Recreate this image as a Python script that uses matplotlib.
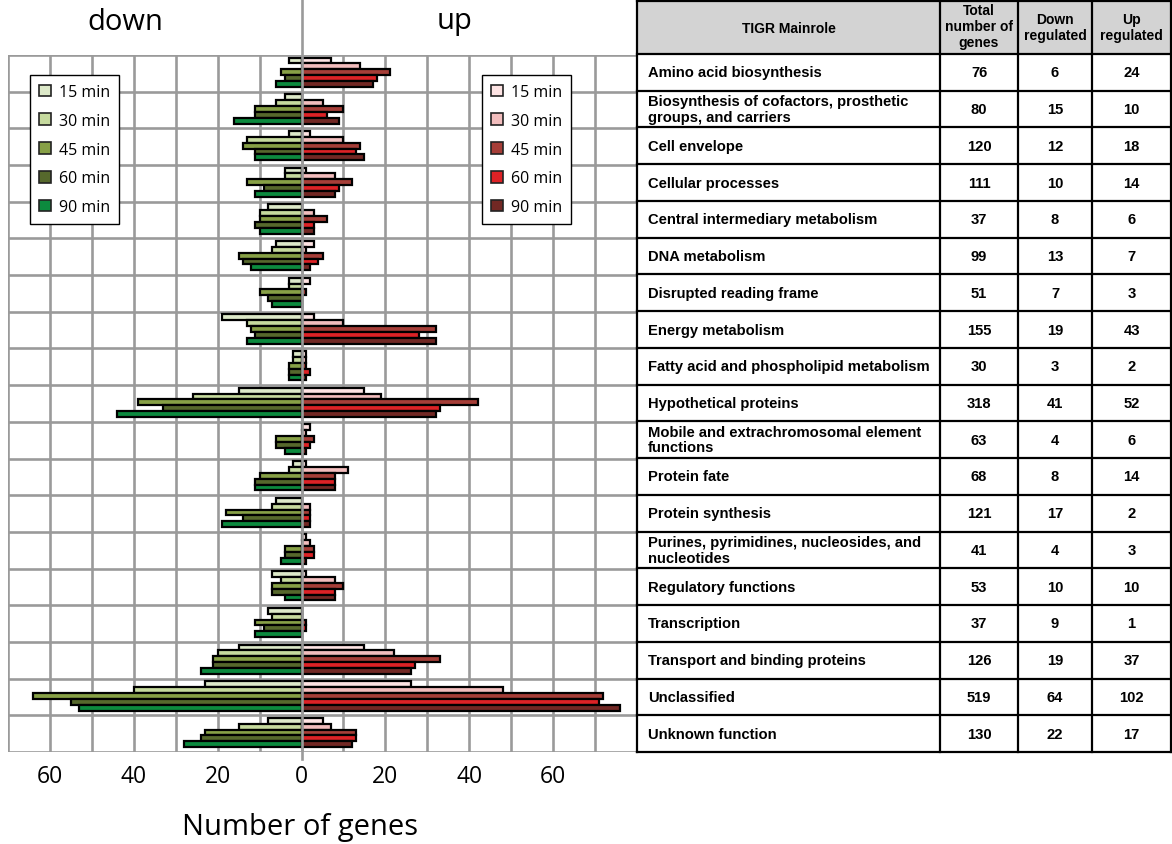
import numpy as np
import matplotlib
matplotlib.use("Agg")
from matplotlib import pyplot as plt
from matplotlib.patches import Patch, Rectangle

# カテゴリ (TIGR main role)
roles = [
    "Amino acid biosynthesis",
    "Biosynthesis of cofactors, prosthetic\ngroups, and carriers",
    "Cell envelope",
    "Cellular processes",
    "Central intermediary metabolism",
    "DNA metabolism",
    "Disrupted reading frame",
    "Energy metabolism",
    "Fatty acid and phospholipid metabolism",
    "Hypothetical proteins",
    "Mobile and extrachromosomal element\nfunctions",
    "Protein fate",
    "Protein synthesis",
    "Purines, pyrimidines, nucleosides, and\nnucleotides",
    "Regulatory functions",
    "Transcription",
    "Transport and binding proteins",
    "Unclassified",
    "Unknown function",
]
total_genes = [76, 80, 120, 111, 37, 99, 51, 155, 30, 318, 63, 68, 121, 41, 53, 37, 126, 519, 130]
down_regulated = [6, 15, 12, 10, 8, 13, 7, 19, 3, 41, 4, 8, 17, 4, 10, 9, 19, 64, 22]
up_regulated = [24, 10, 18, 14, 6, 7, 3, 43, 2, 52, 6, 14, 2, 3, 10, 1, 37, 102, 17]

time_labels = ["15 min", "30 min", "45 min", "60 min", "90 min"]

# down (左側)
down_15 = [3, 4, 3, 4, 8, 6, 3, 19, 2, 15, 0, 2, 6, 0, 7, 8, 15, 23, 8]
down_30 = [0, 6, 13, 4, 10, 7, 3, 13, 2, 26, 0, 3, 7, 0, 5, 7, 20, 40, 15]
down_45 = [5, 11, 14, 13, 10, 15, 10, 12, 3, 39, 6, 10, 18, 4, 7, 11, 21, 64, 23]
down_60 = [4, 11, 11, 9, 11, 14, 8, 11, 3, 33, 6, 11, 14, 4, 7, 9, 21, 55, 24]
down_90 = [6, 16, 11, 11, 10, 12, 7, 13, 3, 44, 4, 11, 19, 5, 4, 11, 24, 53, 28]

# up (右側)
up_15 = [7, 0, 2, 1, 0, 3, 2, 3, 1, 15, 2, 1, 0, 1, 1, 0, 15, 26, 5]
up_30 = [14, 5, 10, 8, 3, 1, 0, 10, 1, 19, 1, 11, 2, 2, 8, 0, 22, 48, 7]
up_45 = [21, 10, 14, 12, 6, 5, 1, 32, 1, 42, 3, 8, 2, 3, 10, 1, 33, 72, 13]
up_60 = [18, 6, 13, 9, 3, 4, 0, 28, 2, 33, 2, 8, 2, 3, 8, 1, 27, 71, 13]
up_90 = [17, 9, 15, 8, 3, 2, 0, 32, 1, 32, 1, 8, 2, 1, 8, 0, 26, 76, 12]

down_series = [down_15, down_30, down_45, down_60, down_90]
up_series = [up_15, up_30, up_45, up_60, up_90]

down_colors = ["#dde9c9", "#c6da9e", "#87a046", "#56682c", "#0c8a3e"]
up_colors = ["#fde3e3", "#f2bdbd", "#a63e38", "#dd2226", "#722824"]

W, H = 1172, 845
fig = plt.figure(figsize=(W / 100, H / 100), dpi=100)

# ---- 棒グラフ ----
x0, x1, y0, y1 = 8, 637, 56, 753
ax = fig.add_axes([x0 / W, 1 - y1 / H, (x1 - x0) / W, (y1 - y0) / H])
n = len(roles)
ax.set_xlim(-70, 80)
ax.set_ylim(n, 0)

for xv in range(-70, 81, 10):
    ax.axvline(xv, color="#9a9a9a", lw=1.9, zorder=1)
for yv in range(n + 1):
    ax.axhline(yv, color="#9a9a9a", lw=1.9, zorder=1)

pos = np.arange(n)
bar_h = 0.16
for j in range(5):
    yy = pos + 0.15 + bar_h * j
    d = np.array(down_series[j])
    u = np.array(up_series[j])
    m = d > 0
    ax.barh(yy[m], -d[m], height=bar_h, color=down_colors[j],
            edgecolor="black", linewidth=1.6, zorder=3)
    m = u > 0
    ax.barh(yy[m], u[m], height=bar_h, color=up_colors[j],
            edgecolor="black", linewidth=1.6, zorder=3)

ax.axvline(0, ymin=-0.01, ymax=1.085, color="#9a9a9a", lw=1.9, zorder=4, clip_on=False)

ticks = [-60, -40, -20, 0, 20, 40, 60]
ax.set_xticks(ticks)
ax.set_xticklabels([str(abs(t)) for t in ticks], fontsize=16.5, family="Open Sans")
ax.tick_params(axis="x", length=0, pad=9)
ax.set_yticks([])
for s in ax.spines.values():
    s.set_visible(False)

def make_legend(colors, xa):
    handles = [Patch(facecolor=c, edgecolor="#222222", linewidth=1.2) for c in colors]
    leg = ax.legend(handles, time_labels, loc="upper left", bbox_to_anchor=(xa, 0.971),
                    frameon=True, fancybox=False, edgecolor="black", framealpha=1,
                    handlelength=0.75, handleheight=0.75, handletextpad=0.5,
                    labelspacing=0.8, borderpad=0.55, borderaxespad=0,
                    prop={"family": "Open Sans", "size": 11.5})
    leg.get_frame().set_linewidth(1.0)
    leg.set_zorder(6)
    return leg

ax.add_artist(make_legend(down_colors, 0.035))
make_legend(up_colors, 0.754)

fig.text(125 / W, 1 - 22 / H, "down", fontsize=21, family="Open Sans", ha="center", va="center")
fig.text(455 / W, 1 - 22 / H, "up", fontsize=21, family="Open Sans", ha="center", va="center")
fig.text(300 / W, 1 - 828 / H, "Number of genes", fontsize=21, family="Open Sans",
         ha="center", va="center")

# ---- 表 ----
tx = fig.add_axes([0, 0, 1, 1], facecolor="none")
tx.set_xlim(0, W)
tx.set_ylim(H, 0)
tx.axis("off")

cols = [637, 940, 1018, 1092, 1171]
top, head_bot = 2, 55
row_h = (753 - head_bot) / n
tx.add_patch(Rectangle((cols[0], top), cols[-1] - cols[0], head_bot - top,
                       facecolor="#d3d3d3", edgecolor="none"))
tbl_bot = head_bot + row_h * n
for cx in cols:
    tx.plot([cx, cx], [top, tbl_bot], color="black", lw=1.6)
tx.plot([cols[0], cols[-1]], [top, top], color="black", lw=1.6)
for k in range(n + 1):
    yk = head_bot + row_h * k
    tx.plot([cols[0], cols[-1]], [yk, yk], color="black", lw=1.6)

hdr = dict(fontsize=10, family="Liberation Sans", weight="bold", ha="center", va="center",
           linespacing=1.22)
tx.text((cols[0] + cols[1]) / 2, 29, "TIGR Mainrole", **hdr)
tx.text((cols[1] + cols[2]) / 2, 27, "Total\nnumber of\ngenes", **hdr)
tx.text((cols[2] + cols[3]) / 2, 28, "Down\nregulated", **hdr)
tx.text((cols[3] + cols[4]) / 2, 28, "Up\nregulated", **hdr)

cell = dict(fontsize=10.6, family="Liberation Sans", weight="bold", va="center", linespacing=1.12)
for k in range(n):
    yc = head_bot + row_h * (k + 0.5)
    tx.text(cols[0] + 11, yc, roles[k], ha="left", **cell)
    tx.text((cols[1] + cols[2]) / 2, yc, str(total_genes[k]), ha="center", **cell)
    tx.text((cols[2] + cols[3]) / 2, yc, str(down_regulated[k]), ha="center", **cell)
    tx.text((cols[3] + cols[4]) / 2, yc, str(up_regulated[k]), ha="center", **cell)

fig.savefig("out.png", dpi=100)
